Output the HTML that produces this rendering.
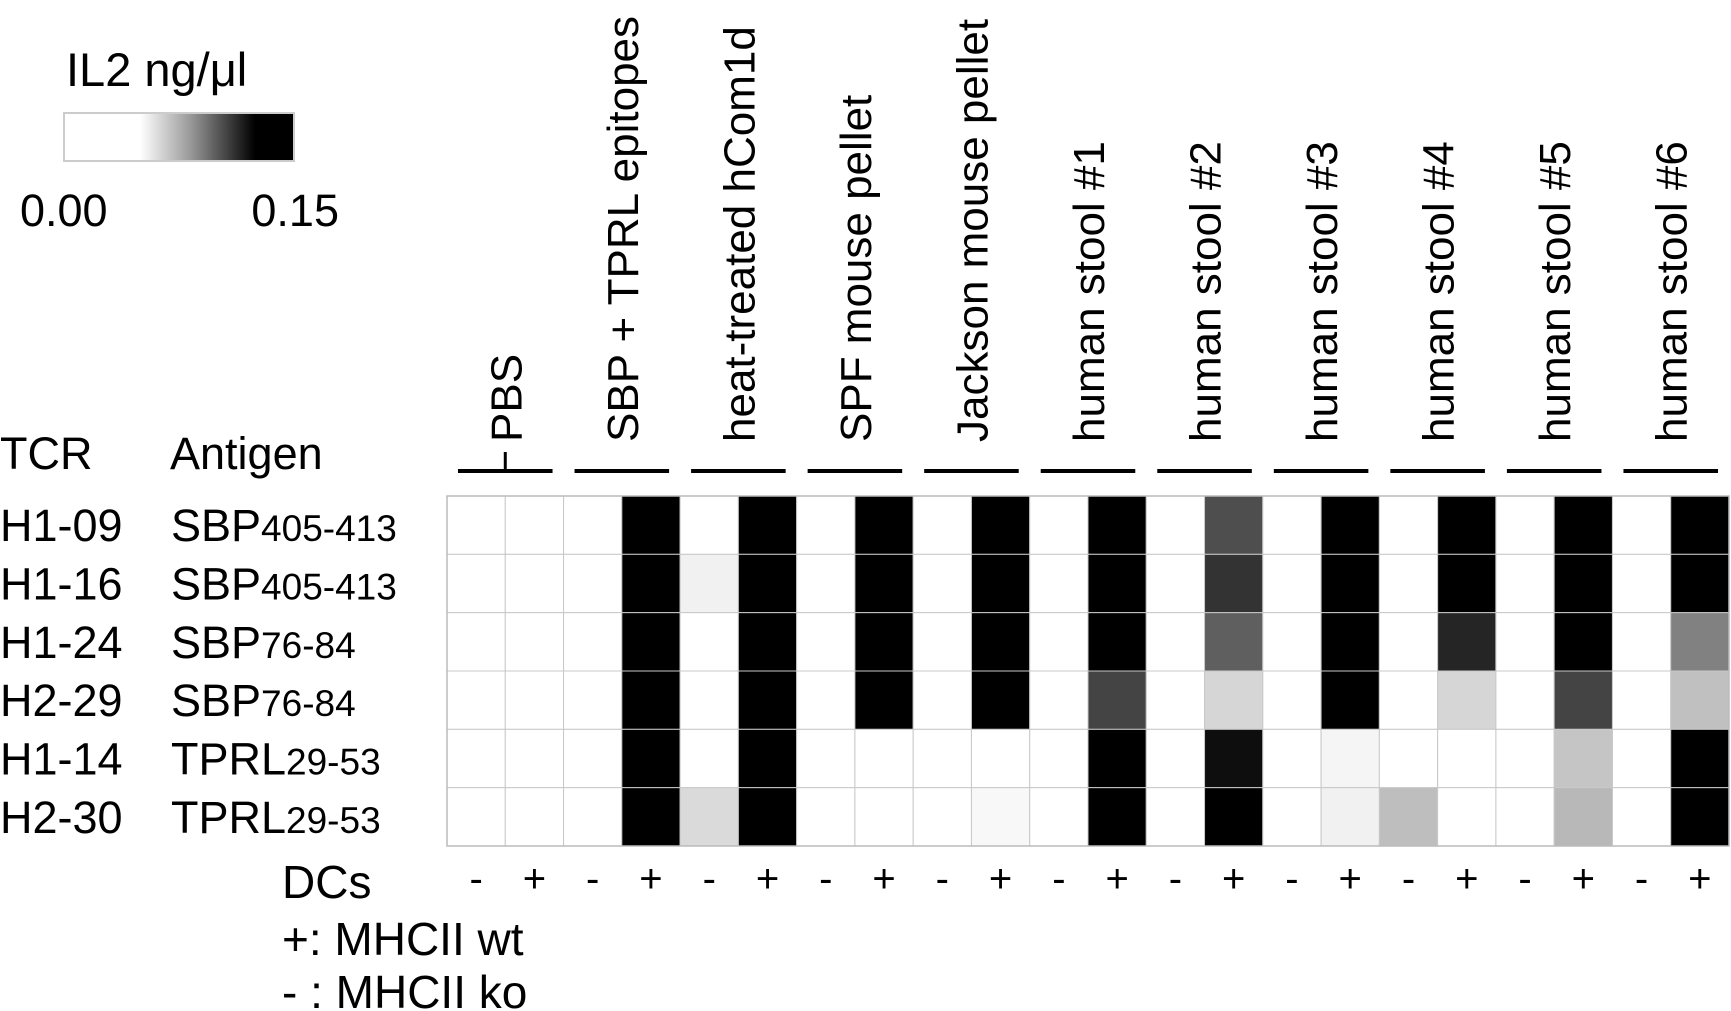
<!DOCTYPE html>
<html><head><meta charset="utf-8"><style>
body{margin:0;background:#fff;width:1731px;height:1011px;overflow:hidden}
svg{display:block;font-family:"Liberation Sans",Arial,sans-serif}
</style></head><body>
<svg id="chart" width="1731" height="1011" viewBox="0 0 1731 1011" xmlns="http://www.w3.org/2000/svg">
<defs><linearGradient id="cg" x1="0" x2="1" y1="0" y2="0">
<stop offset="0" stop-color="#fff"/><stop offset="0.33" stop-color="#fff"/><stop offset="0.55" stop-color="#999"/><stop offset="0.83" stop-color="#000"/><stop offset="1" stop-color="#000"/></linearGradient></defs>
<g>
<text x="66" y="86" font-size="47">IL2 ng/μl</text>
<rect x="64" y="113" width="230" height="48" fill="url(#cg)" stroke="#ccc" stroke-width="2"/>
<text x="20" y="226" font-size="45">0.00</text>
<text x="339" y="226" font-size="45" text-anchor="end">0.15</text>
</g>
<text x="0" y="469" font-size="45">TCR</text>
<text x="170" y="469" font-size="45">Antigen</text>
<text x="282" y="898" font-size="46">DCs</text>
<text x="282" y="955" font-size="46">+: MHCII wt</text>
<text x="282" y="1008" font-size="46">- : MHCII ko</text>
<g id="plot"></g>
</svg>
<script>
const groups = ["PBS","SBP + TPRL epitopes","heat-treated hCom1d","SPF mouse pellet","Jackson mouse pellet","human stool #1","human stool #2","human stool #3","human stool #4","human stool #5","human stool #6"];
const tcrs = ["H1-09","H1-16","H1-24","H2-29","H1-14","H2-30"];
const antigens = ["SBP","SBP","SBP","SBP","TPRL","TPRL"];
const antigenRanges = ["405-413","405-413","76-84","76-84","29-53","29-53"];
const dcs = ["-","+"];
const row0 = [0,0,0,0.15,0,0.15,0,0.15,0,0.15,0,0.15,0,0.102,0,0.15,0,0.15,0,0.15,0,0.15];
const row1 = [0,0,0,0.15,0.054,0.15,0,0.15,0,0.15,0,0.15,0,0.110,0,0.15,0,0.15,0,0.15,0,0.15];
const row2 = [0,0,0,0.15,0,0.15,0,0.15,0,0.15,0,0.15,0,0.097,0,0.15,0,0.114,0,0.15,0,0.087];
const row3 = [0,0,0,0.15,0,0.15,0,0.15,0,0.15,0,0.105,0,0.062,0,0.15,0,0.062,0,0.105,0,0.0685];
const row4 = [0,0,0,0.15,0,0.15,0,0,0,0,0,0.15,0,0.121,0,0.053,0,0,0,0.067,0,0.15];
const row5 = [0,0,0,0.15,0.061,0.15,0,0,0,0.052,0,0.15,0,0.15,0,0.054,0.069,0,0,0.071,0,0.15];
const values = [row0,row1,row2,row3,row4,row5];

const NS="http://www.w3.org/2000/svg";
const gx0=447, gx1=1729, gy0=496, gy1=846;
const nCols=groups.length*2;
const cw=(gx1-gx0)/nCols, rh=(gy1-gy0)/tcrs.length;
const xCol=i=>gx0+i*cw, yRow=j=>gy0+j*rh;
function color(v){let t=(v-0.05)/0.075;t=Math.max(0,Math.min(1,t));const g=Math.round(255*(1-t));return `rgb(${g},${g},${g})`;}
const plot=document.getElementById('plot');
function mk(tag,attrs){const e=document.createElementNS(NS,tag);for(const k in attrs)e.setAttribute(k,attrs[k]);plot.appendChild(e);return e;}

values.forEach((row,j)=>{
  row.forEach((v,i)=>{
    const r=mk('rect',{x:xCol(i),y:yRow(j),width:cw,height:rh,fill:color(v),stroke:'#c8c8c8','stroke-width':1});
    
    
  });
  const t=mk('text',{x:0,y:yRow(j)+rh/2+16,'font-size':45});
  t.textContent=tcrs[j];
  
  
  const a=mk('text',{x:171,y:yRow(j)+rh/2+16,'font-size':45});
  a.textContent=antigens[j];
  const ts=document.createElementNS(NS,'tspan');ts.setAttribute('font-size','37');ts.textContent=antigenRanges[j];a.appendChild(ts);
  
  
});
mk('rect',{x:gx0,y:gy0,width:gx1-gx0,height:gy1-gy0,fill:'none',stroke:'#bbb','stroke-width':1.5});

groups.forEach((g,k)=>{
  const cx=xCol(2*k)+cw;
  const b=mk('rect',{x:xCol(2*k)+11,y:469,width:2*cw-22,height:4,fill:'#000'});
  
  
  const t=mk('text',{x:0,y:0,'font-size':44,transform:`translate(${cx+16},442) rotate(-90)`});
  t.textContent=g;
  
  
});
const tick=mk('line',{x1:xCol(1),x2:xCol(1),y1:452,y2:471,stroke:'#000','stroke-width':3});



for(let i=0;i<nCols;i++){
  const t=mk('text',{x:xCol(i)+cw/2,y:892,'font-size':40,'text-anchor':'middle'});
  t.textContent=dcs[i%2];
  
  
}
</script>
</body></html>
